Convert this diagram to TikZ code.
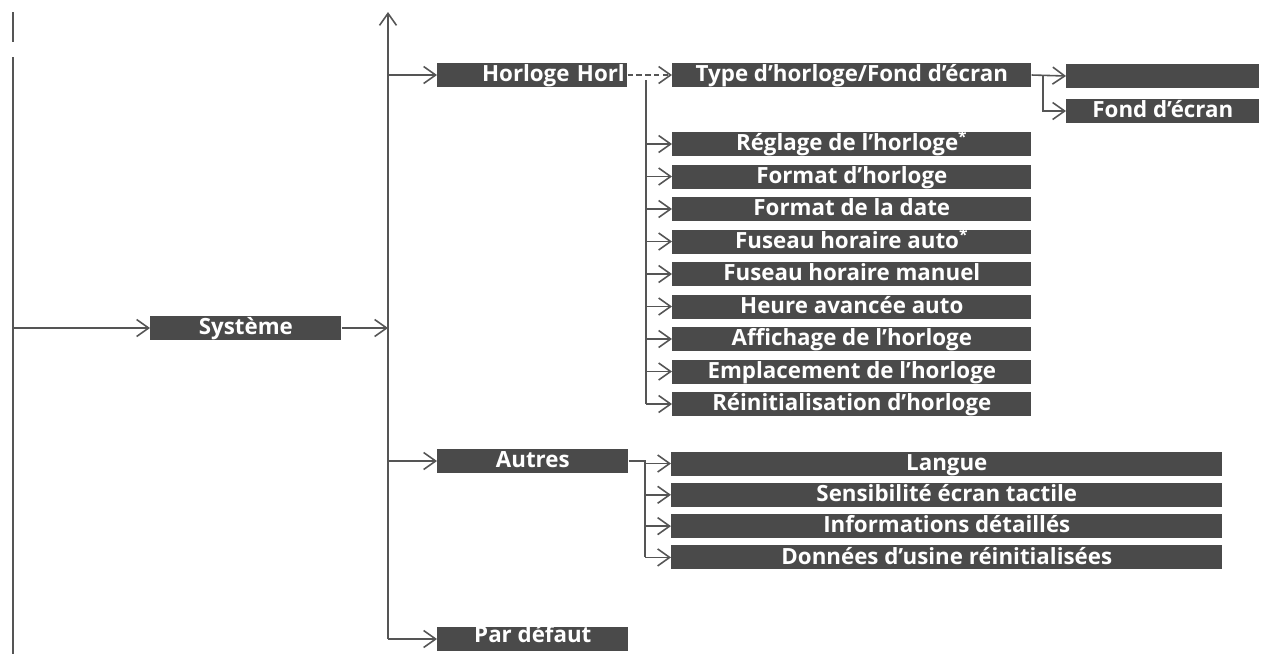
\documentclass[tikz,border=0pt]{standalone}
\usepackage{fontspec}
\setsansfont{Open Sans}
\usetikzlibrary{arrows.meta,calc}

\definecolor{boxgray}{HTML}{4A4A4A}
\definecolor{linegray}{HTML}{555555}

\begin{document}
\begin{tikzpicture}[x=0.02cm,y=-0.02cm,
        box/.style={fill=boxgray,text=white,inner sep=0pt,minimum height=0.48cm,anchor=west,
            text height=9.5pt,text depth=2pt,
            font=\sffamily\bfseries\fontsize{12.7}{12.7}\selectfont},
        link/.style={draw=linegray,line width=0.9pt},
        tip/.style={link,-{Straight Barb[length=0.24cm,width=0.34cm]}}]
        \useasboundingbox (0,0) rectangle (1264,654);
        \pgfmathsetmacro{\itemStep}{32.5}

        % top level
        \node[box,minimum width=3.82cm] (sys) at (150,328) {Système};
        \coordinate (lbus) at (13,328);
        \coordinate (mbus) at (388,328);
        \coordinate (mtop) at (388,12);
        \draw[link] (13,12) -- (13,42);
        \draw[link] (13,57) -- (13,654);
        \draw[tip] (lbus) -- (sys.west);
        \draw[tip] (sys.east) -- (mbus);

        % second level
        \node[box,text width=3.7cm,align=right,inner xsep=0.05cm] (horloge) at (437,75) {Horloge Horl};
        \node[box,minimum width=3.82cm] (autres) at (437,461) {Autres};
        \node[box,minimum width=3.82cm] (defaut) at (437,639) {\raisebox{1.5pt}{Par défaut}};
        \draw[tip] (mbus |- defaut) -- (mtop);
        \foreach \n in {horloge,autres,defaut}{
            \draw[tip] (mbus |- \n) -- (\n.west);
        }

        % clock menu
        \node[box,minimum width=7.18cm] (type) at (672,75) {Type d’horloge/Fond d’écran};
        \draw[link,densely dashed,-{Straight Barb[length=0.24cm,width=0.34cm]}] (horloge.east) -- (type.west);
        \coordinate (hbus) at (646,80);
        \foreach \txt [count=\i] in {Réglage de l’horloge\textsuperscript{*},Format d’horloge,Format de la date,
            Fuseau horaire auto\textsuperscript{*},Fuseau horaire manuel,Heure avancée auto,
            Affichage de l’horloge,Emplacement de l’horloge,Réinitialisation d’horloge}{
            \node[box,minimum width=7.18cm] (c\i) at (672,{144+\itemStep*(\i-1)}) {\txt};
            \draw[tip] (hbus |- c\i) -- (c\i.west);
        }
        \draw[link] (hbus) -- (hbus |- c9);

        % wallpaper
        \node[box,minimum width=3.86cm] (fond1) at (1066,76) {};
        \node[box,minimum width=3.86cm] (fond2) at (1066,111) {Fond d’écran};
        \coordinate (fbus) at (1043,76);
        \draw[tip] (type.east) -- (fond1.west);
        \draw[tip] (fbus) |- (fond2.west);

        % other settings
        \coordinate (abus) at (645,461);
        \foreach \txt [count=\i] in {Langue,Sensibilité écran tactile,Informations détaillés,
            Données d’usine réinitialisées}{
            \node[box,minimum width=11.02cm] (a\i) at (671,{463.5+31.3*(\i-1)}) {\txt};
            \draw[tip] (abus |- a\i) -- (a\i.west);
        }
        \draw[link] (autres.east) -- (abus) -- (abus |- a4);
    \end{tikzpicture}
\end{document}
